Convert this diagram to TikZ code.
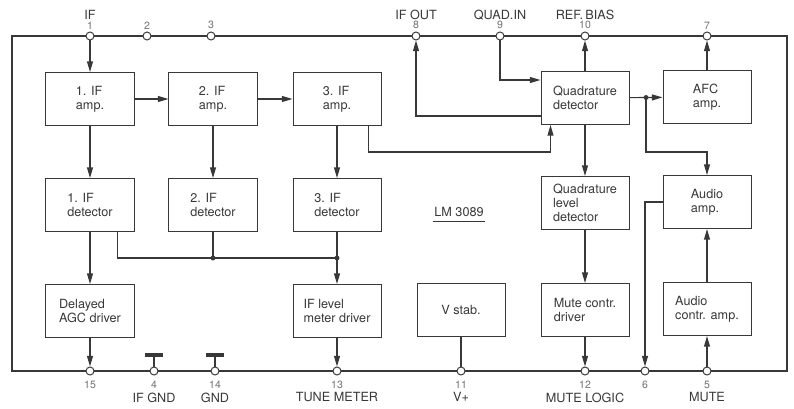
\documentclass[tikz,border=0pt]{standalone}
\usepackage{fontspec}
\setmainfont{TeX Gyre Heros}
\usetikzlibrary{arrows.meta, calc, positioning}
\colorlet{ink}{black!78}
\begin{document}
\begin{tikzpicture}[
    x=0.025cm, y=-0.025cm,
    block/.style={draw=ink, line width=0.7pt, minimum width=2.2cm, minimum height=1.325cm, align=left, inner sep=2pt, text=ink, font=\fontsize{9}{10}\selectfont},
    pin/.style={circle, draw=ink, fill=white, line width=0.7pt, inner sep=0pt, minimum size=0.2cm},
    pinnum/.style={font=\fontsize{7.5}{7.5}\selectfont, text=black!55, inner sep=1pt},
    pinname/.style={font=\fontsize{9}{9}\selectfont, text=ink, inner sep=1pt},
    conn/.style={draw=ink, line width=0.8pt, -{Triangle[length=7.5pt, width=4.2pt]}},
    wire/.style={draw=ink, line width=0.8pt},
    dot/.style={circle, fill=ink, inner sep=0pt, minimum size=3.5pt},
    gndbar/.style={fill=ink, inner sep=0pt, minimum width=0.45cm, minimum height=0.1cm}
]
    \useasboundingbox (0,0) rectangle (794,408);

    % --- package outline ---
    \draw[ink, line width=2pt] (12,36) rectangle (787,371);

    % --- top pins ---
    \node[pin, label={[pinnum, label distance=0.5pt]above:1}, label={[pinname, label distance=7pt]above:IF}] (p1) at (90,36) {};
    \node[pin, label={[pinnum, label distance=0.5pt]above:2}] (p2) at (147,36) {};
    \node[pin, label={[pinnum, label distance=0.5pt]above:3}] (p3) at (211,36) {};
    \node[pin, label={[pinnum, label distance=0.5pt]above:8}, label={[pinname, label distance=7pt]above:IF OUT}] (p8) at (416,36) {};
    \node[pin, label={[pinnum, label distance=0.5pt]above:9}, label={[pinname, label distance=7pt]above:QUAD.IN}] (p9) at (500,36) {};
    \node[pin, label={[pinnum, label distance=0.5pt]above:10}, label={[pinname, label distance=7pt]above:REF.\,BIAS}] (p10) at (585,36) {};
    \node[pin, label={[pinnum, label distance=0.5pt]above:7}] (p7) at (707,36) {};

    % --- bottom pins ---
    \node[pin, label={[pinnum, label distance=3pt]below:15}] (p15) at (90,371) {};
    \node[pin, label={[pinnum, label distance=3pt]below:4}, label={[pinname, label distance=11pt]below:IF GND}] (p4) at (154,371) {};
    \node[pin, label={[pinnum, label distance=3pt]below:14}, label={[pinname, label distance=11pt]below:GND}] (p14) at (215,371) {};
    \node[pin, label={[pinnum, label distance=3pt]below:13}, label={[pinname, label distance=11pt]below:TUNE METER}] (p13) at (337,371) {};
    \node[pin, label={[pinnum, label distance=3pt]below:11}, label={[pinname, label distance=11pt]below:V+}] (p11) at (461,371) {};
    \node[pin, label={[pinnum, label distance=3pt]below:12}, label={[pinname, label distance=11pt]below:MUTE LOGIC}] (p12) at (585,371) {};
    \node[pin, label={[pinnum, label distance=3pt]below:6}] (p6) at (645,371) {};
    \node[pin, label={[pinnum, label distance=3pt]below:5}, label={[pinname, label distance=11pt]below:MUTE}] (p5) at (707,371) {};

    % --- ground symbols ---
    \node[gndbar] (g4) at (154,355) {};
    \node[gndbar] (g14) at (215,355) {};
    \draw[wire] (p4) -- (g4);
    \draw[wire] (p14) -- (g14);

    % --- blocks ---
    \node[block] (amp1) at (90,99) {1. IF\\amp.};
    \node[block] (amp2) at (213,99) {2. IF\\amp.};
    \node[block] (amp3) at (337,99) {3. IF\\amp.};
    \node[block] (qdet) at (585,98) {Quadrature\\detector};
    \node[block] (afc) at (707,97) {AFC\\amp.};

    \node[block] (det1) at (90,205) {1. IF\\detector};
    \node[block] (det2) at (213,205) {2. IF\\detector};
    \node[block] (det3) at (337,205) {3. IF\\detector};
    \node[block] (qld) at (585,203) {Quadrature\\level\\detector};
    \node[block] (audio) at (707,202) {Audio\\amp.};

    \node[block] (agc) at (90,311) {Delayed\\AGC driver};
    \node[block] (meter) at (337,311) {IF level\\meter driver};
    \node[block] (vstab) at (461,310) {V stab.};
    \node[block] (mute) at (585,310) {Mute contr.\\driver};
    \node[block] (actrl) at (707,309) {Audio\\contr. amp.};

    \node[pinname] (lm) at (459,212) {LM 3089};
    \draw[ink, line width=0.6pt] ([yshift=-2pt]lm.south west) -- ([yshift=-2pt]lm.south east);

    % --- IF chain ---
    \draw[conn] (p1) -- (amp1);
    \draw[conn] (amp1) -- (amp2);
    \draw[conn] (amp2) -- (amp3);
    \draw[conn] (amp1) -- (det1);
    \draw[conn] (amp2) -- (det2);
    \draw[conn] (amp3) -- (det3);

    % --- detector sum ---
    \coordinate (sum) at (0,258);
    \coordinate (d1out) at ($(det1.south east)+(-17,0)$);
    \draw[wire] (d1out) |- (det3 |- sum);
    \draw[wire] (det2) -- (det2 |- sum);
    \node[dot] (j2) at (det2 |- sum) {};
    \node[dot] (j3) at (det3 |- sum) {};
    \draw[conn] (det1) -- (agc);
    \draw[conn] (det3) -- (meter);
    \draw[conn] (agc) -- (p15);
    \draw[conn] (meter) -- (p13);
    \draw[wire] (vstab) -- (p11);

    % --- quadrature section ---
    \coordinate (bus) at (0,152);
    \coordinate (a3out) at ($(amp3.south east)+(-13,0)$);
    \coordinate (qdin) at ($(qdet.south west)+(10,0)$);
    \draw[conn] (a3out) |- (bus -| qdin) -- (qdin);
    \draw[conn] (p9) |- ($(qdet.north west)+(0,9)$);
    \draw[conn] ($(qdet.south west)+(0,-9)$) -| (p8);
    \draw[conn] (qdet) -- (p10);
    \draw[conn] (qdet) -- (afc);
    \draw[conn] (afc) -- (p7);
    \coordinate (jq) at ($(qdet.east)!0.5!(afc.west)$);
    \node[dot] (jqdot) at (jq) {};
    \draw[conn] (jq) -- (jq |- bus) -| (audio);
    \draw[conn] (qdet) -- (qld);
    \draw[conn] (qld) -- (mute);
    \draw[conn] (mute) -- (p12);

    % --- audio section ---
    \draw[conn] (audio.west) -| (p6);
    \draw[conn] (actrl) -- (audio);
    \draw[conn] (p5) -- (actrl);

\end{tikzpicture}
\end{document}
